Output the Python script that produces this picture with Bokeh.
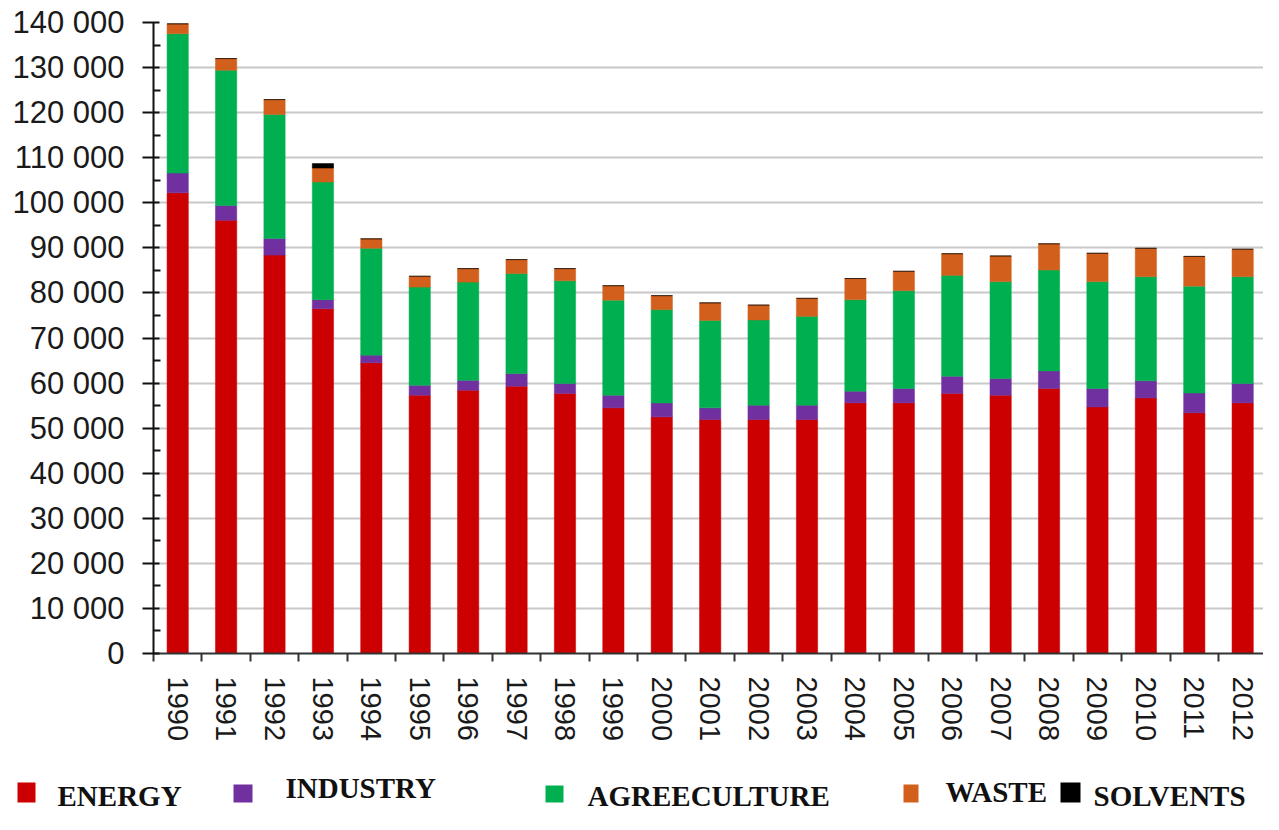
from bokeh.plotting import figure
from bokeh.models import ColumnDataSource, Range1d, FixedTicker
from bokeh.embed import file_html
from bokeh.resources import INLINE
from bokeh.core.properties import value

# ---------------- data ----------------
years = [1990, 1991, 1992, 1993, 1994, 1995, 1996, 1997, 1998, 1999, 2000, 2001,
         2002, 2003, 2004, 2005, 2006, 2007, 2008, 2009, 2010, 2011, 2012]
year_labels = [str(y) for y in years]
energy = [102200, 96100, 88400, 76500, 64500, 57300, 58400, 59300, 57700, 54500, 52500, 51900,
          51900, 51900, 55600, 55600, 57700, 57300, 58800, 54700, 56700, 53400, 55600]
industry = [4400, 3300, 3700, 2000, 1700, 2200, 2200, 2800, 2200, 2800, 3100, 2600,
            3200, 3200, 2600, 3200, 3800, 3700, 3900, 4100, 3800, 4400, 4300]
agriculture = [30900, 30000, 27500, 26100, 23700, 21800, 21800, 22200, 22800, 21100, 20700, 19400,
               18900, 19700, 20300, 21700, 22400, 21500, 22400, 23700, 23100, 23700, 23700]
waste = [2200, 2600, 3300, 3100, 2100, 2400, 3000, 3100, 2700, 3200, 3100, 3900,
         3300, 4000, 4700, 4300, 4800, 5700, 5800, 6300, 6300, 6600, 6100]
solvents = [0, 0, 0, 1000, 0, 0, 0, 0, 0, 0, 0, 0,
            0, 0, 0, 0, 0, 0, 0, 0, 0, 0, 0]

series_keys = ["energy", "industry", "agriculture", "waste", "solvents"]
series_names = ["ENERGY", "INDUSTRY", "AGREECULTURE", "WASTE", "SOLVENTS"]
series_colors = ["#CC0000", "#7030A0", "#00B050", "#D2601C", "#000000"]

y_ticks = [0, 10000, 20000, 30000, 40000, 50000, 60000, 70000,
           80000, 90000, 100000, 110000, 120000, 130000, 140000]
y_tick_labels = ["0", "10 000", "20 000", "30 000", "40 000", "50 000", "60 000", "70 000",
                 "80 000", "90 000", "100 000", "110 000", "120 000", "130 000", "140 000"]

# ---------------- main chart ----------------
src = ColumnDataSource(dict(year=years, energy=energy, industry=industry,
                            agriculture=agriculture, waste=waste, solvents=solvents))

p = figure(width=1263, height=760, title=None,
           x_range=Range1d(1989.5, 2012.43), y_range=Range1d(0, 140000),
           output_backend="svg", toolbar_location=None,
           min_border_left=153, min_border_right=0, min_border_top=22, min_border_bottom=107)
p.background_fill_color = "white"
p.border_fill_color = "white"
p.outline_line_color = None

p.vbar_stack(series_keys, x="year", width=0.44, source=src,
             fill_color=series_colors, line_color=series_colors, line_width=0.5)

# x axis: labels at bar centres, ticks between bars
p.xaxis.ticker = FixedTicker(ticks=years,
                             minor_ticks=[y - 0.5 for y in years] + [years[-1] + 0.5])
p.xaxis.major_label_overrides = {y: l for y, l in zip(years, year_labels)}
p.xaxis.major_label_orientation = "vertical"
p.xaxis.major_tick_out = 0
p.xaxis.major_tick_in = 0
p.xaxis.minor_tick_out = 8
p.xaxis.minor_tick_in = 0
p.xaxis.minor_tick_line_color = "#333333"
p.xaxis.minor_tick_line_width = 2
p.xaxis.axis_line_color = "#333333"
p.xaxis.axis_line_width = 2
p.xaxis.major_label_standoff = 15
p.xaxis.major_label_text_font = "Liberation Sans"
p.xaxis.major_label_text_font_size = "29px"
p.xaxis.major_label_text_color = "#1a1a1a"

# y axis
p.yaxis.ticker = FixedTicker(ticks=y_ticks,
                             minor_ticks=[(a + b) / 2 for a, b in zip(y_ticks[:-1], y_ticks[1:])])
p.yaxis.major_label_overrides = {t: l for t, l in zip(y_ticks, y_tick_labels)}
p.yaxis.major_tick_out = 11
p.yaxis.major_tick_in = 6
p.yaxis.minor_tick_out = 0
p.yaxis.minor_tick_in = 7
p.yaxis.major_tick_line_color = "#111111"
p.yaxis.minor_tick_line_color = "#111111"
p.yaxis.major_tick_line_width = 2
p.yaxis.minor_tick_line_width = 2
p.yaxis.axis_line_color = "#111111"
p.yaxis.axis_line_width = 2
p.yaxis.major_label_standoff = 18
p.yaxis.major_label_text_font = "Liberation Sans"
p.yaxis.major_label_text_font_size = "31px"
p.yaxis.major_label_text_color = "#1a1a1a"

p.xgrid.visible = False
p.ygrid.ticker = FixedTicker(ticks=y_ticks)
p.ygrid.grid_line_color = "#c8c8c8"
p.ygrid.grid_line_width = 2

# ---------------- legend strip (own root, pixel coordinates) ----------------
leg_sq_left = [17, 233, 545, 903, 1060]
leg_sq_right = [35, 252, 563, 918, 1080]
leg_sq_top = [782, 784, 785, 784, 782]
leg_sq_bottom = [802, 802, 802, 802, 802]
leg_text_x = [57, 285, 587, 945, 1093]
leg_text_y = [795, 787, 795, 791, 795]

lsrc = ColumnDataSource(dict(name=series_names, color=series_colors,
                             l=leg_sq_left, r=leg_sq_right, t=leg_sq_top, b=leg_sq_bottom,
                             tx=leg_text_x, ty=leg_text_y))

lg = figure(width=1263, height=54, title=None,
            x_range=Range1d(0, 1263), y_range=Range1d(814, 760),
            output_backend="svg", toolbar_location=None,
            min_border=0, min_border_left=0, min_border_right=0,
            min_border_top=0, min_border_bottom=0)
lg.axis.visible = False
lg.grid.visible = False
lg.outline_line_color = None
lg.background_fill_color = "white"
lg.border_fill_color = "white"
lg.quad(left="l", right="r", top="t", bottom="b", fill_color="color",
        line_color=None, source=lsrc)
lg.text(x="tx", y="ty", text="name", source=lsrc,
        text_font=value("Liberation Serif"), text_font_style="bold",
        text_font_size="29px", text_color="#111111",
        text_align="left", text_baseline="alphabetic")

open("out.html", "w").write(file_html([p, lg], INLINE))
